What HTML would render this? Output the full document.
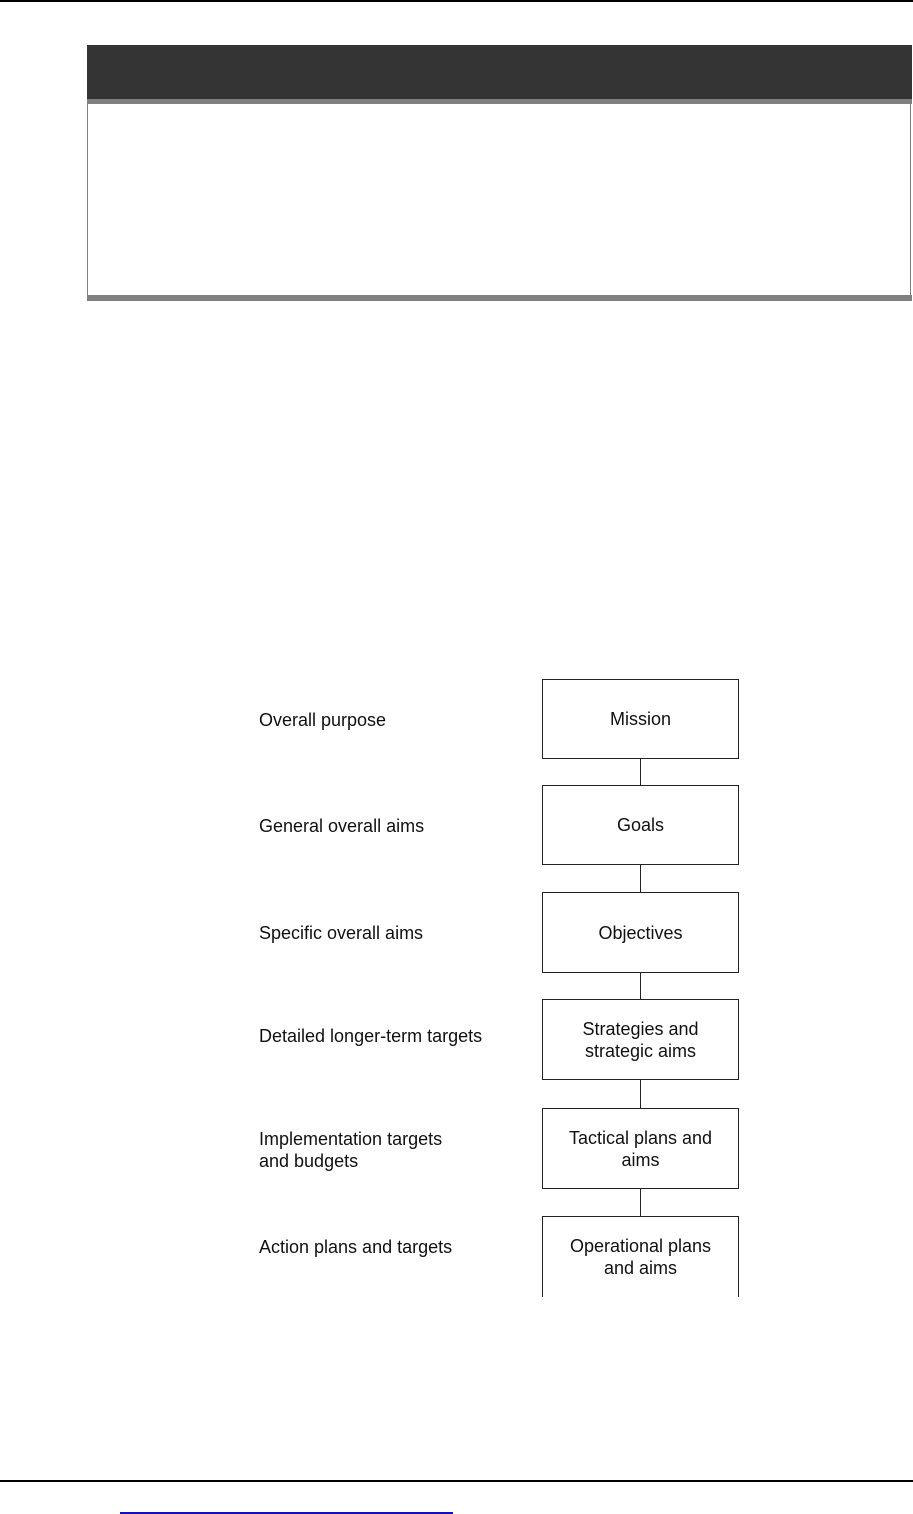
<!DOCTYPE html>
<html><head><style>
body{margin:0;width:913px;height:1514px;background:#fff;position:relative;font-family:"Liberation Sans",Arial,sans-serif;overflow:hidden}
.a{position:absolute}
.box{position:absolute;left:542px;width:197px;border:1px solid #222;box-sizing:border-box;display:flex;align-items:center;justify-content:center;text-align:center;font-size:18px;line-height:22px;color:#111}
.lab{position:absolute;left:259px;font-size:18px;line-height:22px;color:#111}
.ln{position:absolute;left:640px;width:1px;background:#222}
</style></head><body>
<div class="a" style="left:0;top:0;width:913px;height:2px;background:#000"></div>
<div class="a" style="left:87px;top:45px;width:825px;height:54px;background:#343434"></div>
<div class="a" style="left:87px;top:99px;width:825px;height:5px;background:#808080"></div>
<div class="a" style="left:87px;top:104px;width:824px;height:191px;border-left:1px solid #808080;border-right:1px solid #808080;box-sizing:border-box"></div>
<div class="a" style="left:87px;top:295px;width:825px;height:6px;background:#808080"></div>

<div class="box" style="top:679px;height:80px">Mission</div>
<div class="box" style="top:785px;height:80px">Goals</div>
<div class="box" style="top:892px;height:81px">Objectives</div>
<div class="box" style="top:999px;height:81px">Strategies and<br>strategic aims</div>
<div class="box" style="top:1108px;height:81px">Tactical plans and<br>aims</div>
<div class="box" style="top:1216px;height:81px;border-bottom:none">Operational plans<br>and aims</div>
<div class="ln" style="top:759px;height:26px"></div>
<div class="ln" style="top:865px;height:27px"></div>
<div class="ln" style="top:973px;height:26px"></div>
<div class="ln" style="top:1080px;height:28px"></div>
<div class="ln" style="top:1189px;height:27px"></div>

<div class="lab" style="top:709px">Overall purpose</div>
<div class="lab" style="top:815px">General overall aims</div>
<div class="lab" style="top:922px">Specific overall aims</div>
<div class="lab" style="top:1025px">Detailed longer-term targets</div>
<div class="lab" style="top:1128px">Implementation targets<br>and budgets</div>
<div class="lab" style="top:1236px">Action plans and targets</div>

<div class="a" style="left:0;top:1480px;width:913px;height:2px;background:#000"></div>
<div class="a" style="left:120px;top:1512px;width:333px;height:2px;background:#1010c0"></div>
</body></html>
